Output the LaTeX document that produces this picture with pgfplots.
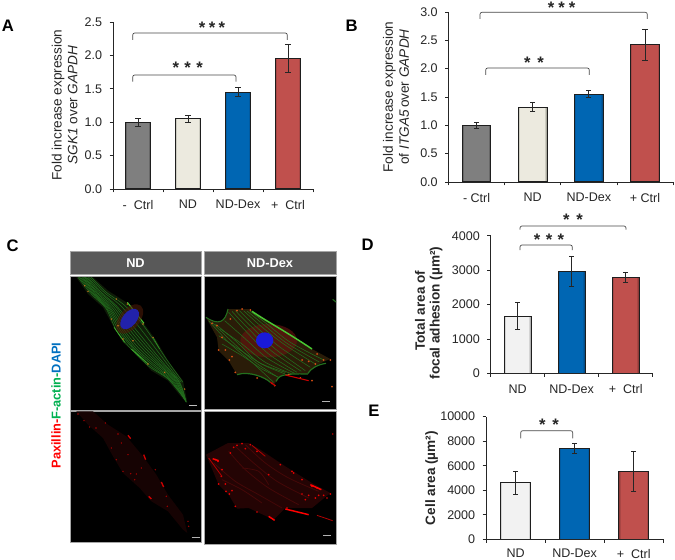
\documentclass[border=0pt]{standalone}
\usepackage{pgfplots}
\pgfplotsset{compat=1.18}
\usepackage{fontspec}
\setmainfont{Liberation Sans}
\definecolor{txt}{HTML}{262626}
\definecolor{barline}{HTML}{1E1E1E}
\definecolor{gmain}{HTML}{7F7F7F}\definecolor{gedge}{HTML}{4A4A4A}
\definecolor{cmain}{HTML}{ECEADF}\definecolor{cedge}{HTML}{A8A89C}
\definecolor{wmain}{HTML}{F2F2F2}\definecolor{wedge}{HTML}{B0B0B0}
\definecolor{bmain}{HTML}{0066B3}\definecolor{bedge}{HTML}{034E8A}
\definecolor{rmain}{HTML}{C0504D}\definecolor{redge}{HTML}{8E3A38}
\definecolor{hdr}{HTML}{595959}\definecolor{cellg}{HTML}{23701E}\definecolor{cellb}{HTML}{48C832}
\definecolor{orng}{HTML}{C8701A}
\definecolor{cellbgA}{HTML}{0F1C08}\definecolor{cellbgB}{HTML}{2A1C08}
\definecolor{haloA}{HTML}{4A1A08}\definecolor{haloB}{HTML}{6A1410}
\definecolor{nucA}{HTML}{2222AA}\definecolor{nucB}{HTML}{1A1AD8}
\definecolor{redbgA}{HTML}{160303}\definecolor{redbgB}{HTML}{240404}
\definecolor{redlnB}{HTML}{450808}
\pgfplotsset{
  barax/.style={
    scale only axis, clip=false, ybar, bar shift=0pt, axis on top,
    axis x line=bottom, axis y line=left,
    axis line style={-,draw=txt,line width=0.6pt},
    tick style={draw=txt,line width=0.6pt},
    tick align=outside, major tick length=2.6pt, minor tick length=2.6pt,
    major x tick style={draw=none},
    ymin=0, scaled y ticks=false,
    tick label style={font=\fontsize{9.4}{11}\selectfont,text=txt},
    /pgf/number format/assume math mode=true,
    /pgf/number format/1000 sep={},
    xticklabel style={yshift=-2.2pt},
    yticklabel style={xshift=-2pt},
  },
  onedec/.style={yticklabel style={/pgf/number format/fixed,/pgf/number format/fixed zerofill,/pgf/number format/precision=1}},
}
% one bar: x, y, error, colour letter, width in pt
\newcommand{\bb}[5]{%
  \addplot[draw=none,fill=#4edge,bar width=#5pt] coordinates {(#1,#2)};
  \addplot[draw=none,fill=#4main!55!#4edge,bar width=\the\dimexpr#5pt-1.2pt\relax] coordinates {(#1,#2)};
  \addplot[draw=none,fill=#4main,bar width=\the\dimexpr#5pt-2.6pt\relax] coordinates {(#1,#2)};
  \addplot[draw=barline,fill=none,line width=0.8pt,bar width=#5pt,
    error bars/y dir=both,error bars/y explicit,
    error bars/error bar style={draw=txt,line width=0.6pt},
    error bars/error mark options={draw=txt,line width=0.6pt,mark size=1.9pt,rotate=90}]
    coordinates {(#1,#2) +- (0,#3)};
}
\newcommand{\lab}[3]{\node[rotate=90,inner sep=0,text=txt,font=\fontsize{10.2}{11}\selectfont] at (#1,#2) {#3};}
\newcommand{\brk}[4]{\draw[draw=txt!85,line width=0.5pt,rounded corners=1.5pt] (#1,#4) -- (#1,#3) -- (#2,#3) -- (#2,#4);}
\newcommand{\strs}[3]{\node[inner sep=0,text=txt,yshift=-2.6pt,font=\bfseries\fontsize{12.5}{13}\selectfont] at (#1,#2) {\raisebox{-0.42em}{#3}};}
\begin{document}
\begin{tikzpicture}
\path[use as bounding box,fill=white] (0,0) rectangle (506.25pt,-420pt);

% A
\begin{axis}[barax,onedec,at={(84.75pt,-141.75pt)},anchor=south west,width=150pt,height=125.25pt,
  xmin=-0.5,xmax=3.5,ymax=2.5,ytick={0,0.5,1,1.5,2,2.5},xtick={0,1,2,3},
  xticklabels={{-\ \ Ctrl},ND,ND-Dex,{+\ \ Ctrl}},minor xtick={-0.5,0.5,1.5,2.5,3.5}]
\bb{0}{1.00}{0.06}{g}{18.75}
\bb{1}{1.05}{0.05}{c}{18.75}
\bb{2}{1.45}{0.07}{b}{18.75}
\bb{3}{1.96}{0.21}{r}{18.75}
\end{axis}
% B
\begin{axis}[barax,onedec,at={(336.4pt,-136.5pt)},anchor=south west,width=168.4pt,height=127.5pt,
  xmin=-0.5,xmax=3.5,ymax=3,ytick={0,0.5,1,1.5,2,2.5,3},xtick={0,1,2,3},
  xticklabels={{- Ctrl},ND,ND-Dex,{+ Ctrl}},minor xtick={-0.5,0.5,1.5,2.5,3.5}]
\bb{0}{1.00}{0.05}{g}{21.5}
\bb{1}{1.32}{0.08}{c}{21.5}
\bb{2}{1.55}{0.06}{b}{21.5}
\bb{3}{2.42}{0.27}{r}{21.5}
\end{axis}
% D
\begin{axis}[barax,at={(368pt,-280pt)},anchor=south west,width=121.5pt,height=103.2pt,
  xmin=-0.5,xmax=2.5,ymax=4000,ytick={0,1000,2000,3000,4000},xtick={0,1,2},
  xticklabels={ND,ND-Dex,{+\ \ Ctrl}},minor xtick={-0.5,0.5,1.5,2.5}]
\bb{0}{1660}{390}{w}{20.2}
\bb{1}{2970}{430}{b}{20.2}
\bb{2}{2790}{140}{r}{20.2}
\end{axis}
% E
\begin{axis}[barax,at={(364.5pt,-404.5pt)},anchor=south west,width=133pt,height=92pt,
  xmin=-0.5,xmax=2.5,ymax=10000,ytick={0,2000,4000,6000,8000,10000},xtick={0,1,2},
  xticklabel style={yshift=0.9pt},
  xticklabels={ND,ND-Dex,{+\ \ Ctrl}},minor xtick={-0.5,0.5,1.5,2.5}]
\bb{0}{4600}{970}{w}{22.5}
\bb{1}{7430}{430}{b}{22.5}
\bb{2}{5530}{1620}{r}{22.5}
\end{axis}

\begin{scope}[x=0.75pt,y=-0.75pt]
% panel letters
\node[inner sep=0,font=\bfseries\fontsize{12.5}{13}\selectfont] at (8,25.6) {A};
\node[inner sep=0,font=\bfseries\fontsize{12.5}{13}\selectfont] at (351.7,26) {B};
\node[inner sep=0,font=\bfseries\fontsize{12.5}{13}\selectfont] at (12.7,246) {C};
\node[inner sep=0,font=\bfseries\fontsize{12.5}{13}\selectfont] at (367.7,244.7) {D};
\node[inner sep=0,font=\bfseries\fontsize{12.5}{13}\selectfont] at (374,411) {E};
% y labels
\lab{58}{105}{Fold increase expression}
\lab{72.7}{105}{\textit{SGK1} over \textit{GAPDH}}
\lab{389.3}{97}{Fold increase expression}
\lab{404}{97}{of \textit{ITGA5}\,over \textit{GAPDH}}
\lab{420}{310.7}{\textbf{Total area of}}
\lab{436}{313}{\textbf{focal adhesion (µm²)}}
\lab{431.7}{478}{\textbf{Cell area (µm²)}}
% brackets
\brk{132.7}{287.3}{33}{40}\strs{212}{24}{*\hspace{2.5pt}*\hspace{2.5pt}*}
\brk{132.7}{236}{75}{81.7}\strs{187.7}{64}{*\hspace{4pt}*\hspace{4pt}*}
\brk{480}{647.3}{12.3}{19}\strs{561.7}{4.5}{*\hspace{3pt}*\hspace{3pt}*}
\brk{485.7}{589.3}{68}{75}\strs{534}{59}{*\hspace{5pt}*}
\brk{520}{626}{226}{229.5}\strs{573}{216}{*\hspace{5pt}*}
\brk{520}{572.3}{245}{250}\strs{549}{236.7}{*\hspace{4pt}*\hspace{4pt}*}
\brk{520.7}{572.7}{430.7}{438.3}\strs{549}{421}{*\hspace{5pt}*}
% panel C frame
\fill[hdr] (70,251) rectangle (201.7,274);
\fill[hdr] (204,251) rectangle (336.7,274);
\node[text=white,font=\bfseries\fontsize{9.6}{11}\selectfont] at (135.5,262.8) {ND};
\node[text=white,font=\bfseries\fontsize{9.6}{11}\selectfont] at (270,262.8) {ND-Dex};
\fill[black] (70,276) rectangle (201.7,410);
\fill[black] (204,276) rectangle (336.7,409.5);
\fill[black] (70,411.7) rectangle (201.7,542.7);
\fill[black] (204,411) rectangle (336.7,544);
\draw[gray!70,line width=0.5pt] (70,251) rectangle (201.7,274) (204,251) rectangle (336.7,274)
 (70,276) rectangle (201.7,410) (204,276) rectangle (336.7,409.5)
 (70,411.7) rectangle (201.7,542.7) (204,411) rectangle (336.7,544);
\node[rotate=90,inner sep=0,font=\bfseries\fontsize{9.6}{11}\selectfont] at (56,405.5)
 {\textcolor[HTML]{FF0000}{Paxillin-}\textcolor[HTML]{00B050}{F-actin-}\textcolor[HTML]{0070C0}{DAPI}};
\end{scope}

% image ND top
\begin{scope}[shift={(51pt,-205.5pt)},x=0.25pt,y=-0.25pt]
\fill[cellbgA] (25,10)--(75,10)--(120,50)--(175,85)--(225,145)--(265,200)--(300,260)--(345,320)--(358,385)--(345,375)--(300,320)--(250,290)--(215,250)--(165,205)--(135,155)--(105,100)--(60,60)--cycle;
\foreach \c in {
 {(30,10) (70,60) (115,105) (145,170) (180,215) (240,275) (300,315) (350,375)},
 {(34,10) (74,60) (118,105) (152,170) (190,218) (246,274) (305,317) (350,376)},
 {(38,10) (78,60) (122,105) (158,170) (198,222) (252,272) (310,318) (351,378)},
 {(42,10) (82,60) (126,105) (164,170) (206,224) (258,271) (315,319) (351,379)},
 {(45,10) (85,60) (130,105) (170,170) (215,225) (265,270) (320,320) (352,380)},
 {(49,10) (89,59) (134,103) (175,165) (220,220) (270,269) (324,321) (353,382)},
 {(52,10) (92,58) (138,100) (180,160) (225,215) (275,268) (328,322) (354,384)},
 {(56,10) (96,56) (142,97) (185,155) (230,210) (280,266) (332,323) (354,384)},
 {(60,10) (100,55) (145,95) (190,150) (235,205) (285,265) (335,325) (355,385)},
 {(65,10) (108,55) (155,92) (202,145) (245,200) (290,260) (340,325)},
 {(70,10) (115,55) (165,90) (215,140) (255,195) (295,255) (345,325)}}
 {\draw[cellg,line width=0.4pt] plot[smooth] coordinates \c;}
\draw[cellb,line width=0.8pt] (178,85)--(228,148);
\draw[cellb!85!black,line width=0.6pt] (138,160)--(170,205) (190,225)--(240,270);
\draw[cellb!70!black,line width=0.5pt] (255,190)--(275,225);
\fill[haloA,opacity=0.6,rotate around={50:(185,135)}] (185,135) ellipse (52 and 30);
\fill[nucA,rotate around={50:(185,135)}] (185,135) ellipse (36 and 21);
\foreach \x/\y in {50/35,60/52,145/75,178/90,225/150,150/155,165/195,195/200,240/270,290/295,350/345,255/190,130/135}
 {\fill[orng] (\x,\y) circle (2.5);}
\draw[gray!50,line width=0.8pt] (363,394)--(387,394);
\end{scope}

% image Dex top
\begin{scope}[shift={(151.5pt,-205.5pt)},x=0.25pt,y=-0.25pt]
\fill[cellbgB] (12,130)..controls(50,155)and(70,145)..(78,105)--(140,105)--(175,125)--(250,175)--(330,225)--(385,255)..controls(345,270)and(325,285)..(318,300)--(250,298)..controls(235,305)and(225,320)..(215,332)..controls(190,310)and(140,290)..(105,302)--(80,260)--(50,230)--(45,190)--cycle;
\fill[haloB,opacity=0.6] (200,200) ellipse (85 and 50);
\foreach \c in {
 {(20,140) (80,205) (150,265) (215,325)},
 {(30,145) (90,203) (160,265) (232,312)},
 {(40,150) (100,200) (170,265) (250,300)},
 {(55,165) (120,210) (190,265) (270,300)},
 {(68,140) (125,190) (195,252) (278,298)},
 {(80,115) (130,170) (200,240) (285,295)},
 {(90,112) (140,165) (210,232) (298,292)},
 {(100,110) (150,160) (220,225) (310,290)},
 {(112,110) (162,158) (232,218) (325,280)},
 {(125,110) (175,155) (245,210) (340,270)},
 {(135,111) (185,152) (255,208) (352,264)},
 {(145,112) (195,150) (265,205) (365,258)},
 {(60,210) (120,245) (180,285) (230,310)},
 {(50,185) (110,225) (180,270) (250,295)}}
 {\draw[cellg,line width=0.4pt] plot[smooth] coordinates \c;}
\draw[cellg,line width=0.8pt] (12,130)..controls(50,155)and(70,145)..(78,105);
\draw[cellb,line width=1.1pt] (150,112)..controls(190,140)and(240,165)..(330,225);
\draw[cellg,line width=0.9pt] (105,302)..controls(140,290)and(190,310)..(205,325);
\draw[cellg,line width=0.9pt] (222,322)..controls(230,305)and(240,298)..(318,300);
\draw[cellg,line width=0.9pt] (318,298)..controls(325,285)and(345,272)..(372,268);
\fill[nucB] (188,199) ellipse (26 and 24);
\foreach \x/\y in {45/155,30/148,60/190,85/135,105/110,120/105,145/108,70/228,90/248,50/228,82/258,100/295,300/258,320/262,345/240,385/258,365/258,340/270,260/302,295/312,210/328,218/335,165/312,330/320,390/338}
 {\fill[orng!70!red] (\x,\y) circle (3);}
\draw[red!80!black,line width=0.8pt] (250,303)--(320,320) (205,325)--(220,335);
\draw[gray!60,line width=0.8pt] (361,383)--(385,383);
\draw[cellg,line width=0.8pt] (392,76)--(402,84);
\end{scope}

% image ND bottom
\begin{scope}[shift={(51pt,-306pt)},x=0.25pt,y=-0.25pt]
\fill[redbgA] (25,10)--(75,10)--(120,50)--(175,85)--(225,145)--(265,200)--(300,260)--(345,320)--(358,375)--(345,365)--(300,310)--(250,280)--(215,240)--(165,195)--(135,145)--(105,90)--(60,50)--cycle;
\foreach \x/\y in {30/18,48/38,65/57,84/60,112/45,150/78,160/105,145/155,165/190,188/197,205/198,220/180,200/215,262/185,295/265,298/295,360/340,362/355,130/120,180/140}
 {\fill[red!65!black] (\x,\y) circle (2.4);}
\draw[red!80!black,line width=1pt] (180,82)--(188,92) (227,140)--(233,155) (242,265)--(250,273) (280,222)--(287,237);
\draw[gray!60,line width=0.7pt] (371,387)--(396,387);
\end{scope}

% image Dex bottom
\begin{scope}[shift={(151.5pt,-306pt)},x=0.25pt,y=-0.25pt]
\fill[redbgB] (12,140)--(78,105)--(140,105)--(175,125)--(250,175)--(330,225)--(385,255)--(330,300)--(250,300)--(215,335)--(140,300)--(105,302)--(80,260)--(50,230)--cycle;
\foreach \c in {
 {(80,130) (130,185) (200,240) (290,290)},
 {(100,115) (155,165) (225,220) (320,270)},
 {(130,110) (190,165) (260,210) (350,250)},
 {(35,165) (100,220) (170,260) (240,300)},
 {(60,215) (120,245) (180,285)},
 {(120,180) (170,190) (200,230)}}
 {\draw[redlnB,line width=0.6pt] plot[smooth] coordinates \c;}
\foreach \x/\y in {85/135,105/112,120/107,145/110,70/228,90/248,50/228,82/258,100/295,60/185,300/258,320/262,345/240,385/258,365/262,340/270,310/275,165/312,200/200,235/170,270/190,300/215,95/118,130/122,165/130,40/155,48/160,58/205,72/250,255/300,275/195,330/235,350/262,375/270}
 {\fill[red!90!black] (\x,\y) circle (2.8);}
\draw[red!70!black,line width=0.6pt] (20,150)--(60,205) (150,112)--(190,145) (345,322)--(392,338);
\draw[red,line width=1.1pt] (32,152)--(50,158) (250,303)--(320,320) (200,325)--(218,337) (325,230)--(358,245);
\draw[gray!60,line width=0.8pt] (363,383)--(387,383);
\fill[red!70!black] (392,78) circle (2.5);
\end{scope}
\end{tikzpicture}
\end{document}
